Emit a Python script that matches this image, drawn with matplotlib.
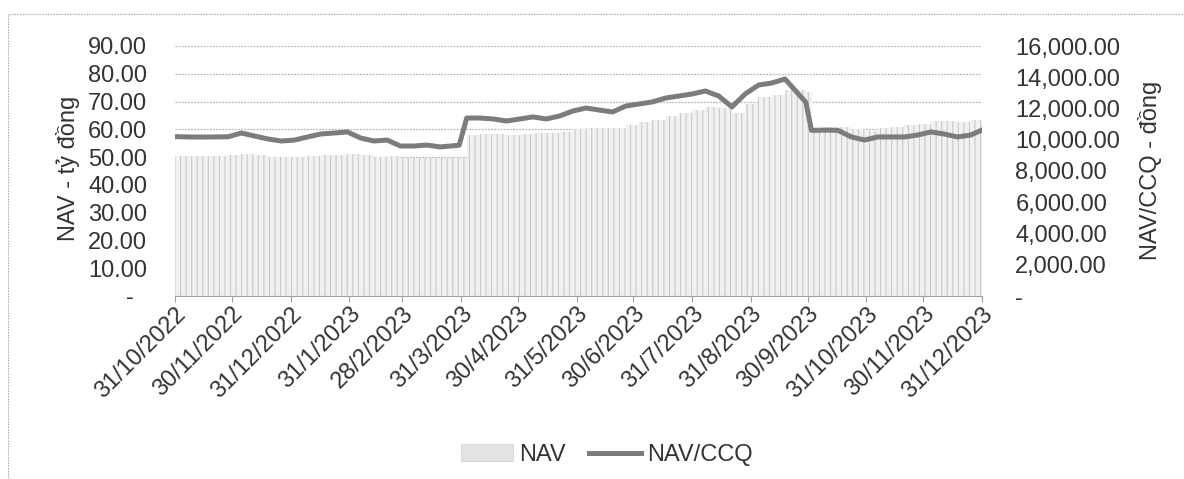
import matplotlib
matplotlib.use("Agg")
import numpy as np
import pandas as pd
import matplotlib.pyplot as plt
from matplotlib.patches import Rectangle, Patch
from matplotlib.lines import Line2D

plt.rcParams["font.family"] = ["Liberation Sans", "DejaVu Sans"]
plt.rcParams["hatch.linewidth"] = 0.8

dates = [
    "2022-10-31", "2022-11-07", "2022-11-14", "2022-11-21", "2022-11-28",
    "2022-12-05", "2022-12-12", "2022-12-19", "2022-12-26",
    "2023-01-02", "2023-01-09", "2023-01-16", "2023-01-23", "2023-01-30",
    "2023-02-06", "2023-02-13", "2023-02-20", "2023-02-27",
    "2023-03-06", "2023-03-13", "2023-03-20", "2023-03-30",
    "2023-04-03", "2023-04-10", "2023-04-17", "2023-04-24",
    "2023-05-01", "2023-05-08", "2023-05-15", "2023-05-22", "2023-05-29",
    "2023-06-05", "2023-06-12", "2023-06-19", "2023-06-26",
    "2023-07-03", "2023-07-10", "2023-07-17", "2023-07-24", "2023-07-31",
    "2023-08-07", "2023-08-14", "2023-08-21", "2023-08-28",
    "2023-09-04", "2023-09-11", "2023-09-18", "2023-09-29",
    "2023-10-02", "2023-10-09", "2023-10-16", "2023-10-23", "2023-10-30",
    "2023-11-06", "2023-11-13", "2023-11-20", "2023-11-27",
    "2023-12-04", "2023-12-11", "2023-12-18", "2023-12-25", "2023-12-31",
]

nav = [
    50.5, 50.5, 50.3, 50.4, 50.6,
    51.0, 50.7, 50.2, 50.0,
    50.1, 50.4, 50.8, 50.9, 51.2,
    50.6, 50.2, 50.3, 49.7,
    49.6, 49.8, 49.5, 49.7,
    58.0, 58.3, 58.2, 58.0,
    58.4, 58.8, 58.6, 59.2, 60.0,
    60.6, 60.5, 60.4, 61.5,
    62.5, 63.5, 64.8, 66.0, 67.0,
    68.0, 67.5, 66.0, 69.0,
    71.5, 72.5, 74.0, 73.5,
    60.5, 61.0, 60.8, 60.0, 59.5,
    60.5, 61.0, 61.5, 62.0,
    63.0, 63.0, 62.8, 63.5, 64.5,
]

nav_ccq = [
    10200, 10180, 10170, 10180, 10190,
    10430, 10240, 10050, 9920,
    9980, 10180, 10370, 10430, 10500,
    10110, 9920, 9980, 9600,
    9600, 9660, 9540, 9650,
    11390, 11390, 11330, 11200,
    11330, 11460, 11330, 11520, 11840,
    12030, 11900, 11780, 12160,
    12290, 12420, 12670, 12800, 12930,
    13120, 12800, 12100, 12930,
    13500, 13630, 13890, 12400,
    10600, 10620, 10600, 10180, 9980,
    10180, 10180, 10180, 10300,
    10500, 10370, 10180, 10300, 10620,
]

tick_dates = [
    "2022-10-31", "2022-11-30", "2022-12-31", "2023-01-31", "2023-02-28",
    "2023-03-31", "2023-04-30", "2023-05-31", "2023-06-30", "2023-07-31",
    "2023-08-31", "2023-09-30", "2023-10-31", "2023-11-30", "2023-12-31",
]
tick_labels = [
    "31/10/2022", "30/11/2022", "31/12/2022", "31/1/2023", "28/2/2023",
    "31/3/2023", "30/4/2023", "31/5/2023", "30/6/2023", "31/7/2023",
    "31/8/2023", "30/9/2023", "31/10/2023", "30/11/2023", "31/12/2023",
]

left_ticks = [0, 10, 20, 30, 40, 50, 60, 70, 80, 90]
right_ticks = [0, 2000, 4000, 6000, 8000, 10000, 12000, 14000, 16000]

TEXT = "#333333"
LINE = "#7c7c7c"
FS = 17

x = pd.to_datetime(dates)
xt = pd.to_datetime(tick_dates)

# each bar runs up to the next observation so there are no holes
widths = np.append(np.diff(x.values).astype("timedelta64[h]").astype(float) / 24, 7)

fig = plt.figure(figsize=(11.84, 4.79), dpi=100)
ax = fig.add_axes([175 / 1184, 1 - 296 / 479, (982 - 175) / 1184, (296 - 46) / 479])
ax2 = ax.twinx()

ax.bar(x, nav, width=widths, align="edge", facecolor="#f1f1f1",
       edgecolor="#c9c9c9", hatch="|||", linewidth=0, zorder=2)
ax2.plot(x, nav_ccq, color=LINE, lw=3.6, solid_joinstyle="round", zorder=3)

ax.set_xlim(xt[0], xt[-1])
ax.set_ylim(0, 90)
ax2.set_ylim(0, 16000)

ax.set_yticks(left_ticks)
ax.set_yticklabels([f"{v:.2f}" if v else "-  " for v in left_ticks])
ax2.set_yticks(right_ticks)
ax2.set_yticklabels([f"{v:,.2f}" if v else "-" for v in right_ticks])

ax.grid(axis="y", color="#b5b5b5", lw=0.9, linestyle=(0, (1.5, 1)), zorder=0)
ax.set_axisbelow(True)

for a in (ax, ax2):
    for s in ("top", "left", "right"):
        a.spines[s].set_visible(False)
ax.spines["bottom"].set_color("#a0a0a0")
ax.spines["bottom"].set_linestyle((0, (1.5, 1)))
ax2.spines["bottom"].set_visible(False)

ax.tick_params(axis="y", length=0, pad=20, labelsize=FS, labelcolor=TEXT)
ax2.tick_params(axis="y", length=0, pad=24, labelsize=FS, labelcolor=TEXT)

ax.set_xticks(xt)
ax.set_xticklabels(tick_labels, rotation=45, ha="right", va="top",
                   rotation_mode="anchor")
ax.tick_params(axis="x", length=4, color="#a0a0a0", pad=1,
               labelsize=FS, labelcolor=TEXT)

fig.text(68 / 1184, 1 - 168 / 479, "NAV - tỷ đồng", rotation=90,
         ha="center", va="center", fontsize=FS, color=TEXT)
fig.text(1150 / 1184, 1 - 170 / 479, "NAV/CCQ - đồng", rotation=90,
         ha="center", va="center", fontsize=FS, color=TEXT)

handles = [
    Patch(facecolor="#e3e3e3", edgecolor="#d0d0d0", lw=0.5, label="NAV"),
    Line2D([], [], color=LINE, lw=3.6, label="NAV/CCQ"),
]
fig.legend(handles=handles, loc="center", bbox_to_anchor=(607 / 1184, 1 - 455 / 479),
           ncol=2, frameon=False, fontsize=FS, handlelength=2.2,
           handletextpad=0.25, columnspacing=1.0, labelcolor=TEXT)

# outer chart border from the scanned page
fig.patches.append(Rectangle((8 / 1184, -0.2), 1.2, 1.2 - 14 / 479,
                             transform=fig.transFigure, fill=False,
                             edgecolor="#b0b0b0", lw=0.8,
                             linestyle=(0, (1.5, 1))))

fig.savefig("out.png", dpi=100)
